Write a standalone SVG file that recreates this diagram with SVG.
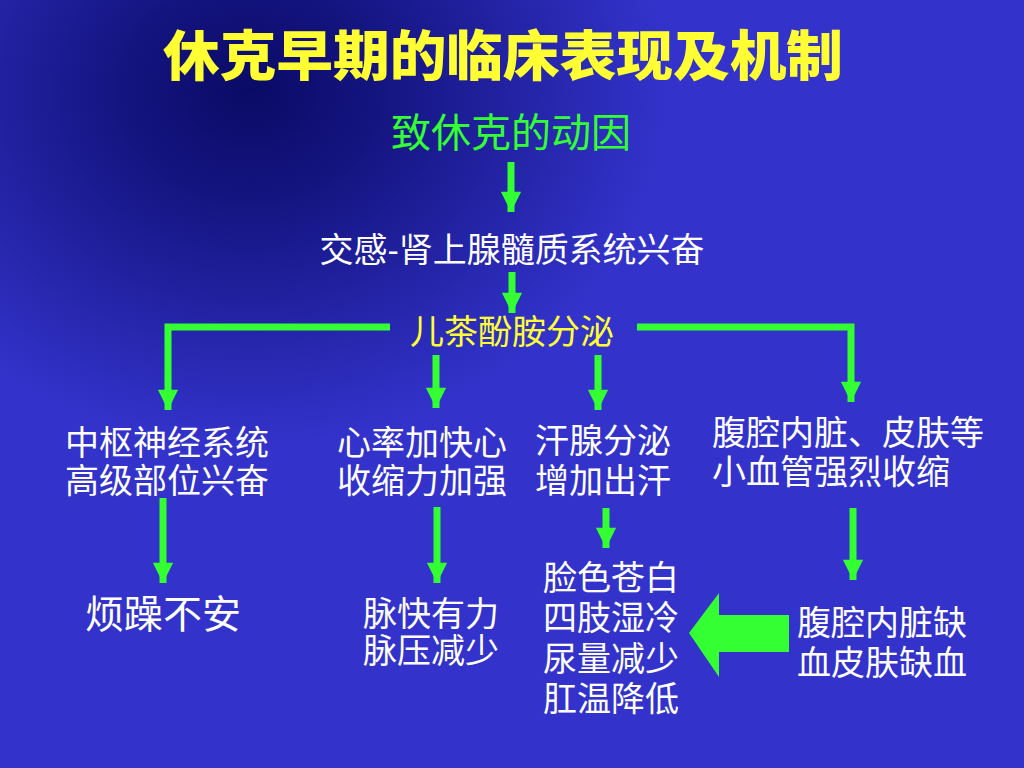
<svg xmlns="http://www.w3.org/2000/svg" width="1024" height="768" viewBox="0 0 1024 768">
<defs>
<radialGradient id="bg" gradientUnits="userSpaceOnUse" cx="250" cy="90" r="420" gradientTransform="translate(250 90) scale(1 0.85) translate(-250 -90)">
<stop offset="0" stop-color="#0a0a66"/>
<stop offset="0.3" stop-color="#141480"/>
<stop offset="1" stop-color="#3333cc"/>
</radialGradient>
<marker id="ah" viewBox="0 0 10 10" refX="10" refY="5" markerWidth="3.1" markerHeight="2.9" markerUnits="strokeWidth" orient="auto">
<path d="M0,0 L10,5 L0,10 Z" fill="#33ff33"/>
</marker>
<style>
.t{font-family:"Liberation Sans","Noto Sans CJK SC",sans-serif;}
.w{fill:#ffffff;font-size:34px;}
.ln{stroke:#33ff33;stroke-width:7;fill:none;}
</style>
</defs>
<rect width="1024" height="768" fill="url(#bg)"/>
<g id="title"><text class="t" x="503" y="76" text-anchor="middle" font-size="54" font-weight="900" fill="#ffff33" textLength="680" lengthAdjust="spacingAndGlyphs">休克早期的临床表现及机制</text></g>
<g id="connectors">
<path class="ln" d="M511,162 V212" marker-end="url(#ah)"/>
<path class="ln" d="M512,272 V313" marker-end="url(#ah)"/>
<path class="ln" d="M390,327 H168 V410" marker-end="url(#ah)"/>
<path class="ln" d="M637,327 H851 V402" marker-end="url(#ah)"/>
<path class="ln" d="M436,355 V408" marker-end="url(#ah)"/>
<path class="ln" d="M598,355 V410" marker-end="url(#ah)"/>
<path class="ln" d="M163,498 V583" marker-end="url(#ah)"/>
<path class="ln" d="M437,507 V583" marker-end="url(#ah)"/>
<path class="ln" d="M606,508 V548" marker-end="url(#ah)"/>
<path class="ln" d="M853,508 V580" marker-end="url(#ah)"/>
<path d="M689,633 L719,593 L719,615 L789,615 L789,652 L719,652 L719,677 Z" fill="#33ff33"/>
</g>
<g id="cause"><text class="t" x="511" y="147" text-anchor="middle" font-size="40" fill="#33ff33">致休克的动因</text></g>
<g id="sympathetic"><text class="t w" x="512" y="262" text-anchor="middle" textLength="385" lengthAdjust="spacingAndGlyphs">交感-肾上腺髓质系统兴奋</text></g>
<g id="catecholamine"><text class="t" x="512" y="344" text-anchor="middle" font-size="34" fill="#ffff33">儿茶酚胺分泌</text></g>
<g id="cns"><text class="t w" x="65" y="455"><tspan x="65">中枢神经系统</tspan><tspan x="65" dy="38">高级部位兴奋</tspan></text></g>
<g id="heart"><text class="t w" x="337" y="455"><tspan x="337">心率加快心</tspan><tspan x="337" dy="38">收缩力加强</tspan></text></g>
<g id="sweat"><text class="t w" x="535" y="453"><tspan x="535">汗腺分泌</tspan><tspan x="535" dy="40">增加出汗</tspan></text></g>
<g id="vessels"><text class="t w" x="712" y="445"><tspan x="712">腹腔内脏、皮肤等</tspan><tspan x="712" dy="39">小血管强烈收缩</tspan></text></g>
<g id="restless"><text class="t" x="85" y="628" font-size="39" fill="#ffffff">烦躁不安</text></g>
<g id="pulse"><text class="t w" x="363" y="626"><tspan x="363">脉快有力</tspan><tspan x="363" dy="37">脉压减少</tspan></text></g>
<g id="signs"><text class="t w" x="543" y="590"><tspan x="543">脸色苍白</tspan><tspan x="543" dy="40">四肢湿冷</tspan><tspan x="543" dy="41">尿量减少</tspan><tspan x="543" dy="40">肛温降低</tspan></text></g>
<g id="ischemia"><text class="t w" x="797" y="635"><tspan x="797">腹腔内脏缺</tspan><tspan x="797" dy="40">血皮肤缺血</tspan></text></g>
</svg>
